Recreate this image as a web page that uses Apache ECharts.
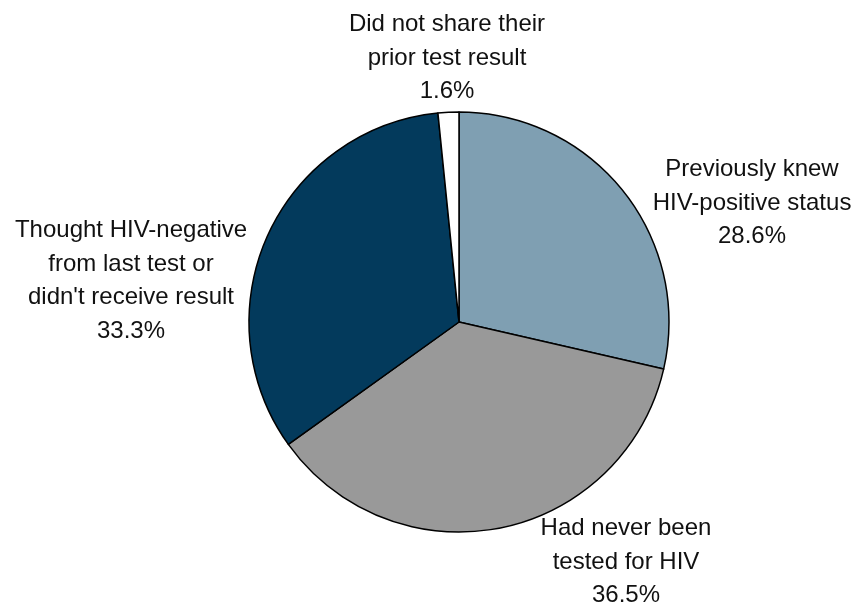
<!DOCTYPE html>
<html>
<head>
<meta charset="utf-8">
<script src="https://cdn.jsdelivr.net/npm/echarts@6/dist/echarts.min.js"></script>
<style>
  html, body { margin: 0; padding: 0; background: #ffffff; }
  #chart { width: 858px; height: 607px; }
</style>
</head>
<body>
<div id="chart"></div>
<script>
// Prior HIV testing history — share of respondents
const categories = [
  'Previously knew\nHIV-positive status',
  'Had never been\ntested for HIV',
  "Thought HIV-negative\nfrom last test or\ndidn't receive result",
  'Did not share their\nprior test result'
];
const shares = [28.6, 36.5, 33.3, 1.6];
const sliceColors = ['#7f9fb2', '#999999', '#033a5c', '#ffffff'];

// Label anchor points (centre of each text block)
const labelAnchors = [
  [752, 203],
  [626, 562],
  [131, 281],
  [447, 58]
];

const chart = echarts.init(document.getElementById('chart'), null, { renderer: 'canvas' });

chart.setOption({
  backgroundColor: '#ffffff',
  animation: false,
  series: [{
    type: 'pie',
    center: [459, 322],
    radius: [0, 210],
    startAngle: 90,
    clockwise: true,
    data: categories.map((name, i) => ({
      name: name,
      value: shares[i],
      itemStyle: { color: sliceColors[i] }
    })),
    itemStyle: { borderColor: '#000000', borderWidth: 1.5 },
    label: {
      show: true,
      position: 'inside',
      overflow: 'none',
      formatter: p => p.name + '\n' + p.value.toFixed(1) + '%',
      fontFamily: 'Liberation Sans, Arial, sans-serif',
      fontSize: 24,
      lineHeight: 33.5,
      color: '#111111',
      align: 'center'
    },
    labelLine: { show: false },
    labelLayout: params => ({
      x: labelAnchors[params.dataIndex][0],
      y: labelAnchors[params.dataIndex][1],
      align: 'center',
      verticalAlign: 'middle'
    }),
    emphasis: { disabled: true }
  }]
});
</script>
</body>
</html>
